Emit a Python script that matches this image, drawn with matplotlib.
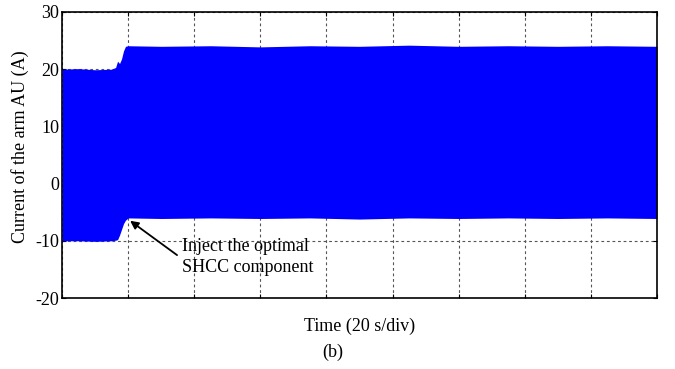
import matplotlib.pyplot as plt
import numpy as np

# envelope of the arm current (A) vs time (s)
t = [0, 5, 10, 15, 16.2, 16.8, 17.4, 18.0, 18.6, 19.2, 20, 30, 45, 60, 75, 90, 105, 120, 135, 150, 165, 180]
i_upper = [20.0, 20.1, 19.9, 20.0, 20.3, 21.4, 21.0, 21.8, 23.2, 24.0, 24.1, 24.0, 24.1, 23.9, 24.1, 24.0, 24.2, 24.0, 24.1, 24.0, 24.1, 24.0]
i_lower = [-10.0, -10.0, -10.1, -10.0, -9.9, -9.8, -9.0, -8.0, -7.0, -6.4, -6.0, -6.1, -6.0, -6.1, -6.0, -6.2, -6.0, -6.1, -6.0, -6.1, -6.0, -6.1]

y_ticks = [-20, -10, 0, 10, 20, 30]
x_ticks = np.arange(0, 181, 20)

plt.rcParams['font.family'] = ['Liberation Serif', 'DejaVu Serif']
plt.rcParams['font.size'] = 13
plt.rcParams['axes.unicode_minus'] = False

fig = plt.figure(figsize=(6.75, 3.69), dpi=100)
ax = fig.add_axes([0.0919, 0.1924, 0.8814, 0.7751])

ax.fill_between(t, i_lower, i_upper, color='#0000ff', lw=0, zorder=2)

ax.set_xlim(0, 180)
ax.set_ylim(-20, 30)
ax.set_xticks(x_ticks)
ax.set_xticklabels([])
ax.set_yticks(y_ticks)
ax.grid(True, color='#555555', linestyle=(0, (2.5, 2.5)), linewidth=0.8, zorder=1)
ax.set_axisbelow(True)
ax.tick_params(direction='in', top=True, right=True, length=3, width=0.8, pad=2)
for s in ax.spines.values():
    s.set_linewidth(1.2)
    s.set_zorder(3)

ax.set_ylabel('Current of the arm AU (A)')
ax.yaxis.set_label_coords(-0.055, 0.528)
ax.set_xlabel('Time (20 s/div)', labelpad=12)
fig.text(0.4935, 0.046, '(b)', ha='center', va='center', fontsize=13)

# arrow marking the SHCC injection instant
ax.annotate('', xy=(20.6, -6.5), xytext=(34.8, -12.5),
            arrowprops=dict(arrowstyle='-|>', color='black', lw=1.3, mutation_scale=12,
                            shrinkA=0, shrinkB=0), zorder=4)
ax.text(36.3, -12.9, 'Inject the optimal\nSHCC component', ha='left', va='center',
        linespacing=1.3, zorder=4)

fig.savefig('out.png', dpi=100)
